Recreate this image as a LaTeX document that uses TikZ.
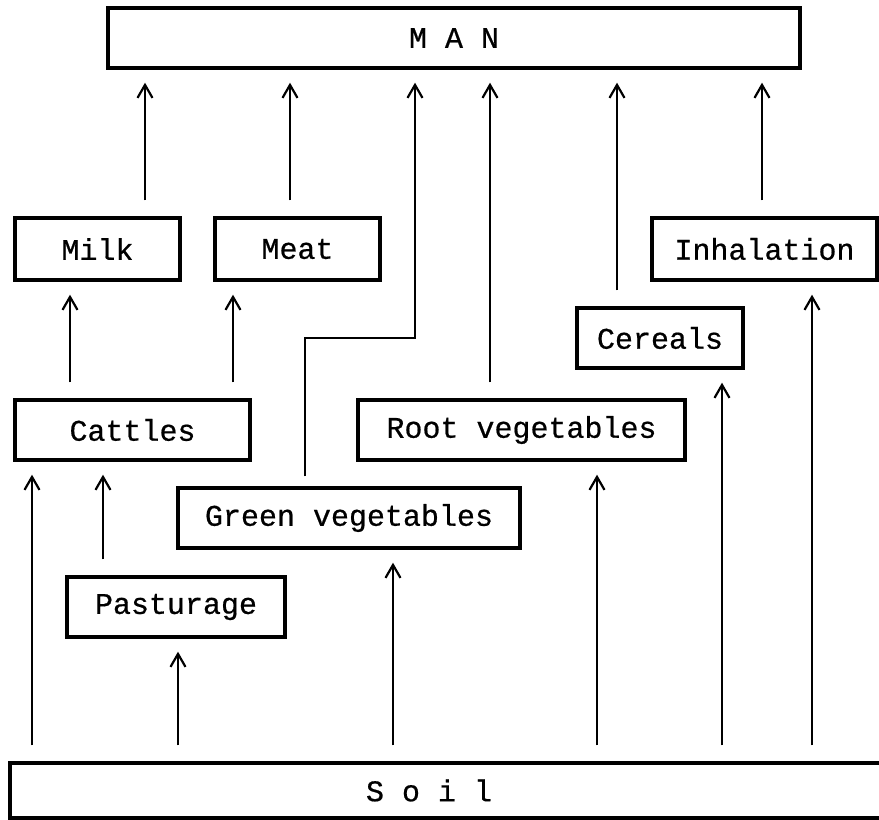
\documentclass[tikz,border=0pt]{standalone}
\usepackage{fontspec}
\newfontfamily\boxfont[FakeBold=0.6]{Liberation Mono}
\usetikzlibrary{arrows.meta}
\begin{document}
\begin{tikzpicture}[x=1pt,y=-1pt,
  box/.style={draw,line width=3.4pt,inner sep=0pt,font=\boxfont\fontsize{30}{36}\selectfont},
  arr/.style={line width=1.3pt,-{Straight Barb[length=13pt,width=15pt,line width=2.2pt]},shorten <=16pt,shorten >=13pt}]
\useasboundingbox (0,0) rectangle (879,820);
\node[box,minimum width=692pt,minimum height=60pt] (man) at (454,38) {M A N};
\node[box,minimum width=165pt,minimum height=62pt] (milk) at (97.5,249) {Milk};
\node[box,minimum width=165pt,minimum height=62pt] (meat) at (297.5,249) {Meat};
\node[box,minimum width=225pt,minimum height=62pt] (inh) at (764.5,249) {Inhalation};
\node[box,minimum width=166pt,minimum height=60pt] (cer) at (660,338) {Cereals};
\node[box,minimum width=235pt,minimum height=60pt] (cat) at (132.5,430) {Cattles};
\node[box,minimum width=327pt,minimum height=60pt] (root) at (521.5,430) {Root vegetables};
\node[box,minimum width=342pt,minimum height=60pt] (green) at (349,518) {Green vegetables};
\node[box,minimum width=218pt,minimum height=60pt] (past) at (176,607) {Pasturage};
\node[box,minimum width=872pt,minimum height=55pt] (soil) at (446,790.5) {\hspace*{-34pt}S o i l};
% to MAN
\draw[arr] (milk.north -| 145,0) -- (man.south -| 145,0);
\draw[arr] (meat.north -| 290,0) -- (man.south -| 290,0);
\draw[arr,shorten <=10pt] (green.north -| 305,0) -- (305,338) -- (415,338) -- (man.south -| 415,0);
\draw[arr] (root.north -| 490,0) -- (man.south -| 490,0);
\draw[arr] (cer.north -| 617,0) -- (man.south -| 617,0);
\draw[arr] (inh.north -| 762,0) -- (man.south -| 762,0);
% cattles
\draw[arr] (cat.north -| 70,0) -- (milk.south -| 70,0);
\draw[arr] (cat.north -| 233,0) -- (meat.south -| 233,0);
% from soil
\draw[arr] (soil.north -| 32,0) -- (cat.south -| 32,0);
\draw[arr] (past.north -| 103,0) -- (cat.south -| 103,0);
\draw[arr] (soil.north -| 178,0) -- (past.south -| 178,0);
\draw[arr] (soil.north -| 393,0) -- (green.south -| 393,0);
\draw[arr] (soil.north -| 597,0) -- (root.south -| 597,0);
\draw[arr] (soil.north -| 722,0) -- (cer.south -| 722,0);
\draw[arr] (soil.north -| 812,0) -- (inh.south -| 812,0);
\end{tikzpicture}
\end{document}
